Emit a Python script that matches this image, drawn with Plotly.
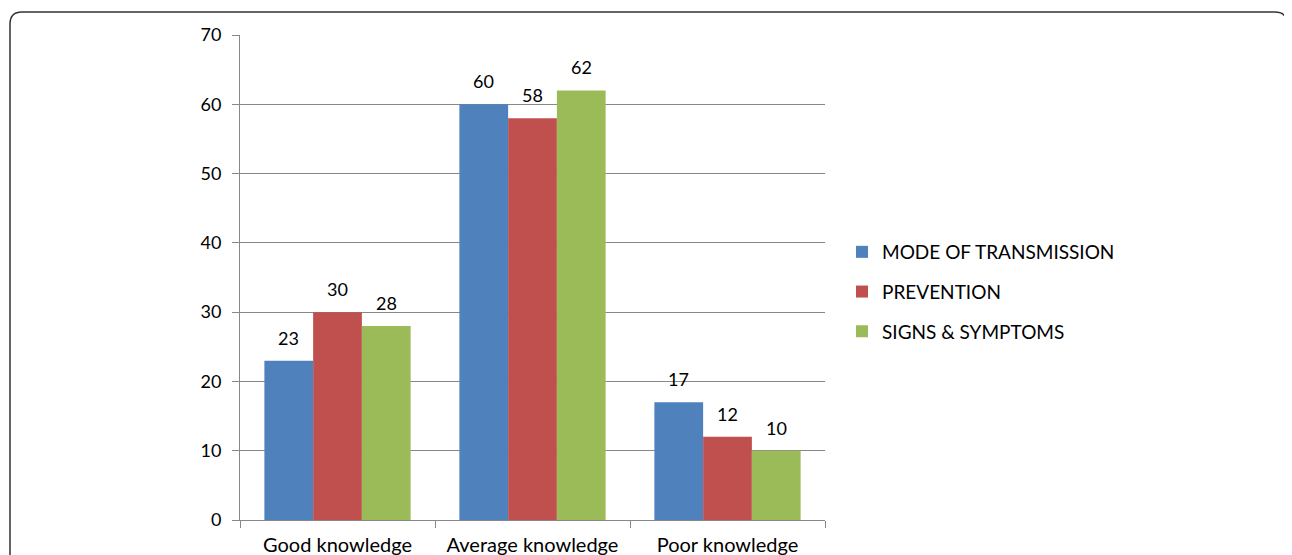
import plotly.graph_objects as go

categories = ["Good knowledge", "Average knowledge", "Poor knowledge"]
series_names = ["MODE OF TRANSMISSION", "PREVENTION", "SIGNS & SYMPTOMS"]
mode_of_transmission = [23, 60, 17]
prevention = [30, 58, 12]
signs_symptoms = [28, 62, 10]
y_ticks = [0, 10, 20, 30, 40, 50, 60, 70]

colors = ["#4F81BD", "#C0504D", "#9BBB59"]
W, H = 1292, 555
OFF = 8  # page body margin
L, R, T, B = 240 - OFF, 825 - OFF, 35 - OFF, 520 - OFF
FONT = "Lato"
BARGAP = 0.25

all_series = [mode_of_transmission, prevention, signs_symptoms]
fig = go.Figure()
for i, (name, vals, c) in enumerate(zip(series_names, all_series, colors)):
    fig.add_trace(go.Bar(
        x=categories, y=vals, name=name, legendgroup=f"g{i}",
        marker=dict(color=c, line=dict(width=0)),
    ))

# value labels above bars
n = len(all_series)
bw = (1 - BARGAP) / n
for i, vals in enumerate(all_series):
    for j, v in enumerate(vals):
        fig.add_annotation(x=j + (i - (n - 1) / 2) * bw, y=v, xref="x", yref="y",
                           text=str(v), showarrow=False, yanchor="bottom", yshift=10,
                           font=dict(family=FONT, size=18, color="#000000"))

def px(x):
    return (x - L) / (R - L)

def py(y):
    return (B - y) / (B - T)

rad = 12
x0, x1, y0, y1 = 10 - OFF, 1287 - OFF, 12 - OFF, 600
path = (f"M {px(x0)} {py(y1)} L {px(x0)} {py(y0 + rad)} "
        f"Q {px(x0)} {py(y0)} {px(x0 + rad)} {py(y0)} "
        f"L {px(x1 - rad)} {py(y0)} "
        f"Q {px(x1)} {py(y0)} {px(x1)} {py(y0 + rad)} "
        f"L {px(x1)} {py(y1)}")
fig.add_shape(type="path", xref="paper", yref="paper", path=path,
              line=dict(color="#333333", width=1.5), layer="above")

fig.update_layout(
    width=W, height=H,
    margin=dict(l=L, r=W - R, t=T, b=H - B),
    paper_bgcolor="white", plot_bgcolor="white",
    barmode="group", bargap=BARGAP, bargroupgap=0,
    font=dict(family=FONT, size=18, color="#000000"),
    showlegend=True,
    legend=dict(x=px(842 - OFF), y=py(233 - OFF), xanchor="left", yanchor="top",
                font=dict(family=FONT, size=19, color="#000000"),
                tracegroupgap=12, itemwidth=30),
    xaxis=dict(type="category", tickson="boundaries", ticks="outside", ticklen=7,
               tickcolor="#888888", showline=True, linecolor="#888888",
               showgrid=False, tickfont=dict(family=FONT, size=20),
               ticklabelstandoff=7, automargin=False),
    yaxis=dict(range=[0, 70], tickvals=y_ticks, ticks="outside", ticklen=7,
               tickcolor="#888888", showline=True, linecolor="#888888",
               showgrid=True, gridcolor="#888888", gridwidth=1, zeroline=False,
               tickfont=dict(family=FONT, size=18), ticklabelstandoff=7,
               automargin=False),
)
fig.write_html("out.html")
